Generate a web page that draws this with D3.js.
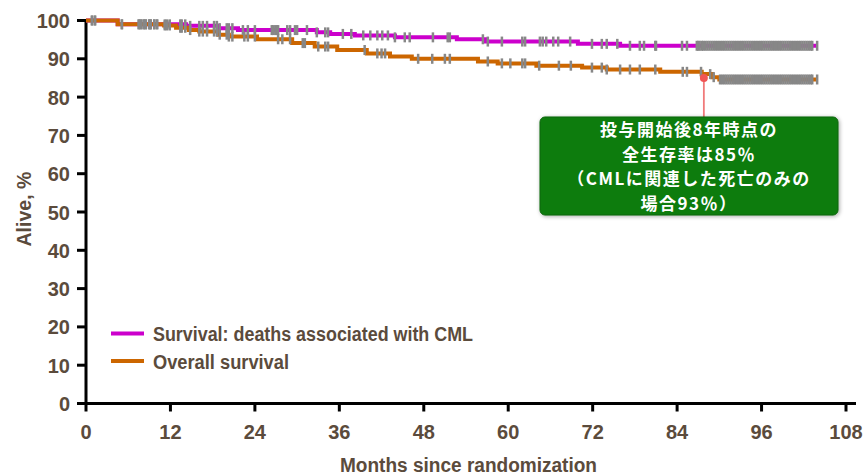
<!DOCTYPE html>
<html>
<head>
<meta charset="utf-8">
<script src="https://cdn.jsdelivr.net/npm/d3@7"></script>
<style>
  html, body { margin: 0; padding: 0; background: #ffffff; }
  svg { display: block; }
</style>
</head>
<body>
<svg id="chart" width="868" height="475"></svg>
<script>
// Kaplan-Meier curves: [month, survival % after the step]
const cmlSteps = [
  [0, 100], [4.5, 99.0], [14.2, 98.6], [18.8, 98.0], [21.6, 97.5], [32.8, 96.9],
  [34.7, 96.5], [38.2, 96.1], [43.9, 95.6], [52.7, 95.1], [56.7, 94.5],
  [69.9, 93.9], [75.9, 93.4], [103.9, 93.4]
];
const osSteps = [
  [0, 100], [4.5, 99.0], [11.1, 98.7], [12.8, 98.1], [14.6, 97.5], [16.1, 97.1],
  [18.8, 96.3], [20.3, 95.8], [24.3, 95.1], [29.3, 94.1], [32.5, 93.2],
  [35.7, 92.3], [39.9, 91.4], [43.2, 90.6], [46.3, 90.0], [55.7, 89.3],
  [58.5, 88.8], [64.0, 88.2], [70.5, 87.7], [74.0, 87.2], [81.6, 86.6],
  [87.5, 86.0], [89.0, 85.2], [90.0, 84.6], [103.9, 84.6]
];

// Censoring times (months)
const cmlCensored = [
  0.85, 1.28, 5.1, 7.5, 7.8, 8.2, 8.5, 9.0, 9.2, 9.7, 10.1, 11.2, 11.5, 11.9,
  13.4, 13.6, 14.1, 14.8, 16.1, 16.6, 17.2, 18.2, 18.6, 19.0, 20.0, 20.3, 20.8,
  22.3, 23.0, 24.0, 26.4, 26.6, 26.9, 27.1, 27.3, 28.6, 29.0, 29.7, 30.0, 31.4,
  32.8, 34.0, 34.4, 36.5, 37.7, 39.4, 40.4, 41.4, 42.1, 42.9, 43.9, 45.3, 46.0,
  49.3, 51.4, 51.7, 56.4, 57.1, 59.1, 62.0, 62.4, 64.5, 64.9, 65.4, 66.4, 67.1,
  68.8, 71.9, 73.3, 74.0, 75.5, 77.3, 78.7, 79.3, 80.9, 81.0, 84.7, 85.4,
  86.8, 87.0, 87.2, 87.5, 87.7, 88.0, 88.3, 88.6, 88.9, 89.2, 89.5, 89.8, 90.1,
  90.4, 90.7, 91.0, 91.3, 91.6, 91.9, 92.2, 92.5, 92.8, 93.1, 93.4, 93.7, 94.0,
  94.3, 94.6, 94.9, 95.2, 95.5, 95.8, 96.1, 96.4, 96.7, 97.0, 97.3, 97.6, 97.9,
  98.2, 98.5, 98.8, 99.1, 99.4, 99.7, 100.0, 100.3, 100.6, 100.9, 101.2, 101.5,
  101.8, 102.1, 102.4, 102.7, 103.0, 103.2, 103.9
];
const osCensored = [
  0.85, 1.28, 5.1, 7.5, 7.8, 8.2, 8.5, 9.0, 9.2, 9.7, 10.1, 11.2, 11.5, 11.9,
  13.4, 13.6, 14.1, 14.8, 16.1, 16.6, 17.2, 18.2, 18.6, 19.0, 20.0, 20.3, 20.8,
  22.5, 23.0, 24.0, 27.3, 27.9, 29.0, 30.8, 31.1, 33.0, 34.0, 34.4, 39.6, 41.4,
  42.0, 42.5, 47.2, 49.2, 51.0, 51.7, 57.1, 59.1, 60.3, 62.0, 62.4, 64.4, 67.2,
  68.9, 71.9, 73.3, 74.0, 75.9, 77.3, 78.7, 80.9, 84.8, 85.4, 87.4, 88.7, 89.2,
  90.1, 90.4, 90.7, 91.0, 91.3, 91.6, 91.9, 92.2, 92.5, 92.8, 93.1, 93.4, 93.7,
  94.0, 94.3, 94.6, 94.9, 95.2, 95.5, 95.8, 96.1, 96.4, 96.7, 97.0, 97.3, 97.6,
  97.9, 98.2, 98.5, 98.8, 99.1, 99.4, 99.7, 100.0, 100.3, 100.6, 100.9, 101.2,
  101.5, 101.8, 102.1, 102.4, 102.7, 103.0, 103.2, 103.9
];

const xTicks = [0, 12, 24, 36, 48, 60, 72, 84, 96, 108];
const yTicks = [0, 10, 20, 30, 40, 50, 60, 70, 80, 90, 100];

const seriesNames = ["Survival: deaths associated with CML", "Overall survival"];
const seriesColors = ["#cc00cc", "#cc6600"];

// Callout: overall survival at the 8-year mark
const calloutPoint = [87.8, 85];
const calloutLines = [
  "投与開始後8年時点の",
  "全生存率は85％",
  "（CMLに関連した死亡のみの",
  "場合93％）"
];

const textColor = "#5b4b3c";
const latinFont = "'Liberation Sans', Arial, sans-serif";

const svg = d3.select("#chart");

const x = d3.scaleLinear().domain([0, 108]).range([86, 846]);
const y = d3.scaleLinear().domain([0, 100]).range([403.5, 20.5]);

// Axes
const axisG = svg.append("g");
axisG.append("line")
  .attr("x1", x(0)).attr("x2", 856)
  .attr("y1", y(0)).attr("y2", y(0))
  .attr("stroke", "#000").attr("stroke-width", 3);
axisG.append("line")
  .attr("x1", x(0)).attr("x2", x(0))
  .attr("y1", y(100)).attr("y2", y(0) + 1.5)
  .attr("stroke", "#000").attr("stroke-width", 3);

axisG.selectAll(".xt").data(xTicks).join("line")
  .attr("x1", d => x(d)).attr("x2", d => x(d))
  .attr("y1", y(0)).attr("y2", y(0) + 8)
  .attr("stroke", "#000").attr("stroke-width", 3);
axisG.selectAll(".yt").data(yTicks).join("line")
  .attr("x1", x(0) - 9).attr("x2", x(0))
  .attr("y1", d => y(d)).attr("y2", d => y(d))
  .attr("stroke", "#000").attr("stroke-width", 3);

axisG.selectAll(".xl").data(xTicks).join("text")
  .attr("x", d => x(d)).attr("y", 438.5)
  .attr("text-anchor", "middle")
  .attr("font-family", latinFont).attr("font-weight", "bold")
  .attr("font-size", 20).attr("fill", textColor)
  .text(d => d);
axisG.selectAll(".yl").data(yTicks).join("text")
  .attr("x", 70).attr("y", d => y(d) + 7.5)
  .attr("text-anchor", "end")
  .attr("font-family", latinFont).attr("font-weight", "bold")
  .attr("font-size", 20).attr("fill", textColor)
  .text(d => d);

// Axis titles
svg.append("text")
  .attr("x", 468.5).attr("y", 472)
  .attr("text-anchor", "middle")
  .attr("font-family", latinFont).attr("font-weight", "bold")
  .attr("font-size", 20).attr("fill", textColor)
  .attr("textLength", 257).attr("lengthAdjust", "spacingAndGlyphs")
  .text("Months since randomization");
svg.append("text")
  .attr("transform", "translate(31,209) rotate(-90)")
  .attr("text-anchor", "middle")
  .attr("font-family", latinFont).attr("font-weight", "bold")
  .attr("font-size", 20).attr("fill", textColor)
  .attr("textLength", 75).attr("lengthAdjust", "spacingAndGlyphs")
  .text("Alive, %");

// Step curves
const line = d3.line()
  .x(d => x(d[0])).y(d => y(d[1]))
  .curve(d3.curveStepAfter);

const valueAt = (steps, t) => {
  let v = steps[0][1];
  for (const s of steps) { if (s[0] <= t) v = s[1]; }
  return v;
};

const curves = [
  { steps: cmlSteps, censored: cmlCensored, color: seriesColors[0] },
  { steps: osSteps, censored: osCensored, color: seriesColors[1] }
];

curves.forEach(c => {
  svg.append("path")
    .attr("d", line(c.steps))
    .attr("fill", "none")
    .attr("stroke", c.color)
    .attr("stroke-width", 4);
});

// Censor ticks drawn on top of both curves
curves.forEach(c => {
  svg.append("g").selectAll("line").data(c.censored).join("line")
    .attr("x1", d => x(d)).attr("x2", d => x(d))
    .attr("y1", d => y(valueAt(c.steps, d)) - 5)
    .attr("y2", d => y(valueAt(c.steps, d)) + 5)
    .attr("stroke", "#878787")
    .attr("stroke-width", 2.5);
});

// Legend
const legend = svg.append("g");
const legendY = [333.5, 361];
const legendW = [320, 136];
seriesNames.forEach((name, i) => {
  legend.append("line")
    .attr("x1", 111).attr("x2", 144)
    .attr("y1", legendY[i]).attr("y2", legendY[i])
    .attr("stroke", seriesColors[i]).attr("stroke-width", 4);
  legend.append("text")
    .attr("x", 153).attr("y", legendY[i] + 7.5)
    .attr("font-family", latinFont).attr("font-weight", "bold")
    .attr("font-size", 20).attr("fill", textColor)
    .attr("textLength", legendW[i]).attr("lengthAdjust", "spacingAndGlyphs")
    .text(name);
});

// Callout box
const defs = svg.append("defs");
const shadow = defs.append("filter").attr("id", "boxShadow")
  .attr("x", "-10%").attr("y", "-15%").attr("width", "120%").attr("height", "130%");
shadow.append("feGaussianBlur").attr("in", "SourceAlpha").attr("stdDeviation", 2).attr("result", "b");
shadow.append("feOffset").attr("in", "b").attr("dx", 1).attr("dy", 1).attr("result", "o");
shadow.append("feComponentTransfer").attr("in", "o").attr("result", "s")
  .append("feFuncA").attr("type", "linear").attr("slope", 0.35);
const merge = shadow.append("feMerge");
merge.append("feMergeNode").attr("in", "s");
merge.append("feMergeNode").attr("in", "SourceGraphic");

const box = { x: 540, y: 117, w: 298, h: 98 };
const px = x(calloutPoint[0]), py = y(calloutPoint[1]);

svg.append("line")
  .attr("x1", px).attr("x2", px)
  .attr("y1", py).attr("y2", box.y)
  .attr("stroke", "#f07a7a").attr("stroke-width", 1.8);

svg.append("rect")
  .attr("x", box.x).attr("y", box.y)
  .attr("width", box.w).attr("height", box.h)
  .attr("rx", 5).attr("ry", 5)
  .attr("fill", "#107c10")
  .attr("stroke", "#0b650b").attr("stroke-width", 1)
  .attr("filter", "url(#boxShadow)");

svg.append("circle")
  .attr("cx", px).attr("cy", py).attr("r", 4)
  .attr("fill", "#f05555");

// Callout text: four stacked lines inside the box
svg.append("g").selectAll("text").data(calloutLines).join("text")
  .attr("x", box.x + box.w / 2)
  .attr("y", (d, i) => 136 + i * 24.7)
  .attr("text-anchor", "middle")
  .attr("font-family", "'Noto Sans CJK JP', sans-serif")
  .attr("font-weight", "bold")
  .attr("font-size", 17)
  .attr("letter-spacing", 1.5)
  .attr("fill", "#ffffff")
  .text(d => d);
</script>
</body>
</html>
